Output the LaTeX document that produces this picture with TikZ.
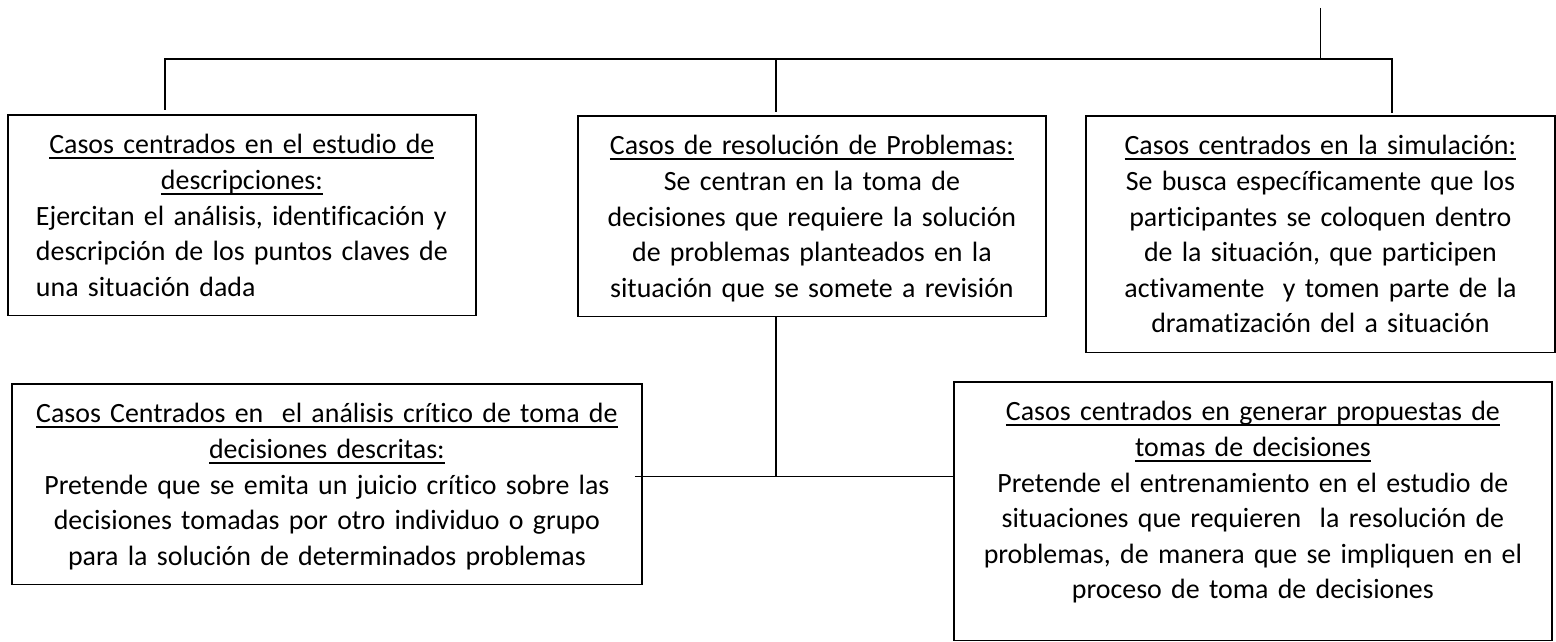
\documentclass[tikz,border=0pt]{standalone}
\usepackage{fontspec}
\setmainfont{Carlito}[Ligatures=NoCommon]

\newsavebox\headbox
\newcommand{\casehead}[1]{\leavevmode\sbox\headbox{#1}\rlap{\rule[-5.2pt]{\wd\headbox}{1.8pt}}\usebox\headbox}
\newcommand{\headstrut}{\rule{0pt}{25pt}}
\newcommand{\tailstrut}[1]{\rule[-#1]{0pt}{#1}}

\begin{document}
\begin{tikzpicture}[
  x=1pt, y=1pt,
  every node/.style = {font=\fontsize{27.9}{35.6}\selectfont},
  casebox/.style = {draw, line width=1.8pt, anchor=north west, align=center,
                    inner xsep=8pt, inner ysep=14pt},
  link/.style = {line width=1.4pt}]
  \useasboundingbox (0,0) rectangle (1556,641);

  % upper row
  \node[casebox, text width=452pt] (descr) at (7,527)
    {\headstrut\casehead{Casos centrados en el estudio de}\\
     \casehead{descripciones:}\\
     \begin{tabular}[t]{@{}l@{}}
       Ejercitan el análisis, identificación y\\
       descripción de los puntos claves de\\
       una situación dada\\[-5.5pt]
     \end{tabular}};
  \node[casebox, text width=452pt] (solve) at (577,526)
    {\headstrut\casehead{Casos de resolución de Problemas:}\\
     Se centran en la toma de\\
     decisiones que requiere la solución\\
     de problemas planteados en la\\
     situación que se somete a revisión\tailstrut{5.2pt}};
  \node[casebox, text width=453pt] (simul) at (1085,526)
    {\headstrut\casehead{Casos centrados en la simulación:}\\
     Se busca específicamente que los\\
     participantes se coloquen dentro\\
     de la situación, que participen\\
     activamente\ \ y tomen parte de la\\
     dramatización del a situación\tailstrut{5.5pt}};

  % lower row
  \node[casebox, text width=614pt] (critic) at (11,258)
    {\headstrut\casehead{Casos Centrados en\ \ el análisis crítico de toma de}\\
     \casehead{decisiones descritas:}\\
     Pretende que se emita un juicio crítico sobre las\\
     decisiones tomadas por otro individuo o grupo\\
     para la solución de determinados problemas\tailstrut{5.2pt}};
  \node[casebox, text width=582pt] (propose) at (953,260)
    {\headstrut\casehead{Casos centrados en generar propuestas de}\\
     \casehead{tomas de decisiones}\\
     Pretende el entrenamiento en el estudio de\\
     situaciones que requieren\ \ la resolución de\\
     problemas, de manera que se impliquen en el\\
     proceso de toma de decisiones\tailstrut{27.5pt}};

  % connectors
  \coordinate (root) at ([yshift=107pt]simul.north);
  \coordinate (bus) at ([yshift=56pt]simul.north);
  \coordinate (hub) at ([xshift=-36pt,yshift=-159pt]solve.south);
  \draw[link] (root) -- (bus);
  \draw[link, shorten >=4pt] (bus) -| ([xshift=-77pt]descr.north);
  \draw[link, shorten >=2pt] (bus) -| ([xshift=71.5pt]simul.north);
  \draw[link, shorten >=3pt] (bus -| hub) -- ([xshift=-36pt]solve.north);
  \draw[link] ([xshift=-36pt]solve.south) -- (hub);
  \draw[link] ([xshift=-8pt]critic.east |- hub) -- (hub -| propose.west);
\end{tikzpicture}
\end{document}
